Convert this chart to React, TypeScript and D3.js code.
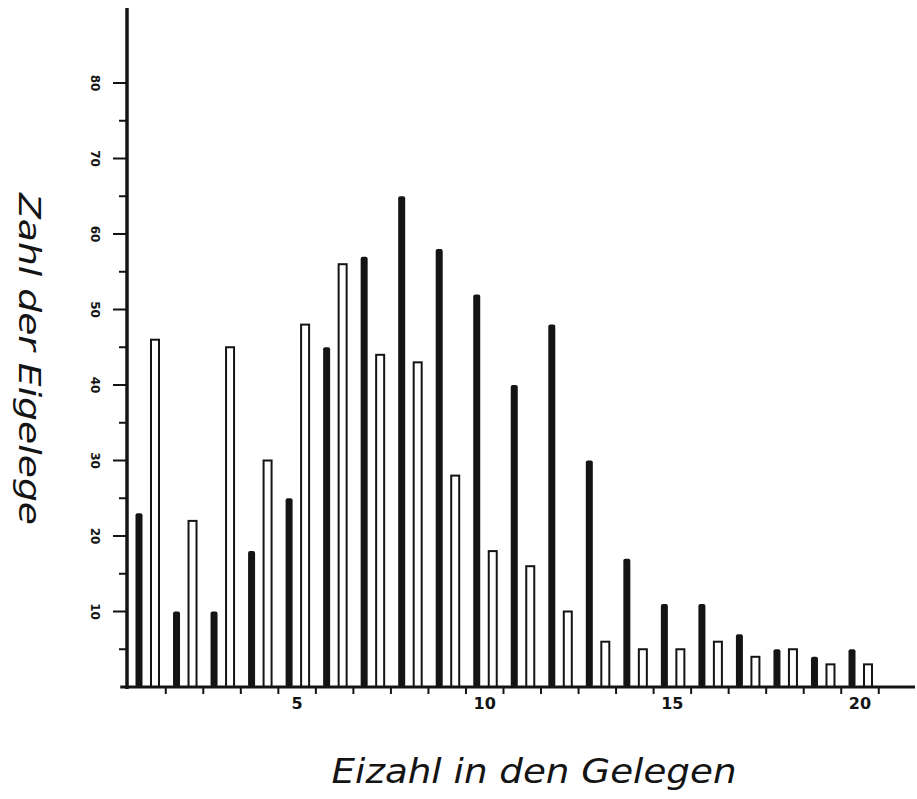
import * as d3 from 'd3'
import { useEffect, useRef } from 'react'

// egg count per clutch (x categories)
const eggCounts = d3.range(1, 21)
// filled bars (left of each pair)
const blackValues = [23, 10, 10, 18, 25, 45, 57, 65, 58, 52, 40, 48, 30, 17, 11, 11, 7, 5, 4, 5]
// open bars (right of each pair)
const whiteValues = [46, 22, 45, 30, 48, 56, 44, 43, 28, 18, 16, 10, 6, 5, 5, 6, 4, 5, 3, 3]
const xTickLabels = [5, 10, 15, 20]
const yTickLabels = [10, 20, 30, 40, 50, 60, 70, 80]

const WIDTH = 917
const HEIGHT = 799

export default function App() {
  const svgRef = useRef<SVGSVGElement | null>(null)

  useEffect(() => {
    if (!svgRef.current) return
    const svg = d3.select(svgRef.current)
    svg.selectAll('*').remove()

    const ink = '#141414'
    const font = '"DejaVu Sans", "Liberation Sans", sans-serif'

    const x = d3.scaleLinear().domain([1, 20]).range([147, 860])
    const y = d3.scaleLinear().domain([0, 80]).range([687, 83])

    svg.append('rect').attr('width', WIDTH).attr('height', HEIGHT).attr('fill', '#fff')

    // bars
    svg.append('g')
      .selectAll('rect')
      .data(eggCounts)
      .join('rect')
      .attr('x', (d) => x(d) - 11.5)
      .attr('y', (d, i) => y(blackValues[i]))
      .attr('width', 7)
      .attr('height', (d, i) => y(0) - y(blackValues[i]))
      .attr('rx', 2)
      .attr('fill', ink)

    svg.append('g')
      .selectAll('rect')
      .data(eggCounts)
      .join('rect')
      .attr('x', (d) => x(d) + 4)
      .attr('y', (d, i) => y(whiteValues[i]))
      .attr('width', 8)
      .attr('height', (d, i) => y(0) - y(whiteValues[i]))
      .attr('fill', '#fff')
      .attr('stroke', ink)
      .attr('stroke-width', 2)

    // x axis
    const xAxis = svg.append('g')
    xAxis.append('line')
      .attr('x1', x(0.5) - 8).attr('x2', 915)
      .attr('y1', y(0)).attr('y2', y(0))
      .attr('stroke', ink).attr('stroke-width', 3)
    xAxis.selectAll('line.tick')
      .data(d3.range(1.5, 21, 1))
      .join('line')
      .attr('class', 'tick')
      .attr('x1', (d) => x(d)).attr('x2', (d) => x(d))
      .attr('y1', y(0)).attr('y2', y(0) + 7)
      .attr('stroke', ink).attr('stroke-width', 2)
    xAxis.selectAll('text')
      .data(xTickLabels)
      .join('text')
      .attr('x', (d) => x(d))
      .attr('y', 709)
      .attr('text-anchor', 'middle')
      .attr('font-family', font)
      .attr('font-size', 16)
      .attr('font-weight', 600)
      .attr('fill', ink)
      .text((d) => d)

    // y axis
    const yAxis = svg.append('g')
    yAxis.append('line')
      .attr('x1', 127).attr('x2', 127)
      .attr('y1', 8).attr('y2', y(0) + 2)
      .attr('stroke', ink).attr('stroke-width', 3.5)
    yAxis.selectAll('line.tick')
      .data(d3.range(5, 81, 5))
      .join('line')
      .attr('class', 'tick')
      .attr('x1', (d) => (d % 10 === 0 ? 113 : 119)).attr('x2', 127)
      .attr('y1', (d) => y(d)).attr('y2', (d) => y(d))
      .attr('stroke', ink).attr('stroke-width', 2)
    yAxis.selectAll('text')
      .data(yTickLabels)
      .join('text')
      .attr('transform', (d) => `translate(91,${y(d)}) rotate(90)`)
      .attr('text-anchor', 'middle')
      .attr('font-family', font)
      .attr('font-size', 12)
      .attr('font-weight', 'bold')
      .attr('fill', ink)
      .text((d) => d)

    // titles
    svg.append('text')
      .attr('x', 534)
      .attr('y', 783)
      .attr('text-anchor', 'middle')
      .attr('font-family', font)
      .attr('font-style', 'italic')
      .attr('font-size', 33)
      .attr('textLength', 405)
      .attr('lengthAdjust', 'spacingAndGlyphs')
      .attr('fill', ink)
      .text('Eizahl in den Gelegen')

    svg.append('text')
      .attr('transform', 'translate(19,359) rotate(90)')
      .attr('text-anchor', 'middle')
      .attr('font-family', font)
      .attr('font-style', 'italic')
      .attr('font-size', 30)
      .attr('textLength', 332)
      .attr('lengthAdjust', 'spacingAndGlyphs')
      .attr('fill', ink)
      .text('Zahl der Eigelege')
  }, [])

  return (
    <div style={{ position: 'fixed', left: 0, top: 0, width: WIDTH, height: HEIGHT }}>
      <svg ref={svgRef} width={WIDTH} height={HEIGHT} style={{ display: 'block' }} />
    </div>
  )
}
